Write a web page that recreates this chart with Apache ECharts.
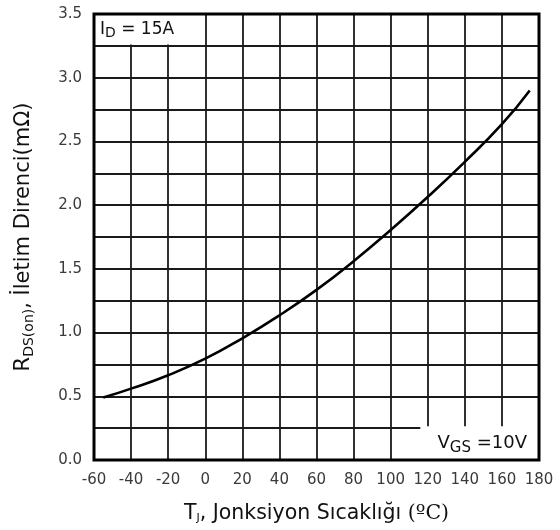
<!DOCTYPE html>
<html><head><meta charset="utf-8">
<script src="https://cdn.jsdelivr.net/npm/echarts@6/dist/echarts.min.js"></script>
<style>html,body{margin:0;padding:0;background:#fff}#c{width:560px;height:530px}</style>
</head><body><div id="c"></div>
<script>
// Data
const tempC = [-55, -40, -20, 0, 20, 40, 60, 80, 100, 120, 140, 160, 175];
const rdsOn = [0.49, 0.56, 0.665, 0.795, 0.955, 1.135, 1.335, 1.56, 1.805, 2.065, 2.34, 2.635, 2.90];
const xTicks = [-60, -40, -20, 0, 20, 40, 60, 80, 100, 120, 140, 160, 180];
const yTicks = ['0.0', '0.5', '1.0', '1.5', '2.0', '2.5', '3.0', '3.5'];
const idBox = [[-60, 3.26], [-18.5, 3.5]];
const vgsBox = [[116, 0], [180, 0.265]];

const sans = 'DejaVu Sans';
const chart = echarts.init(document.getElementById('c'), null, {renderer: 'canvas'});
chart.setOption({
  animation: false,
  backgroundColor: '#fff',
  grid: {left: 94, right: 21, top: 14, bottom: 70, show: true, z: 5,
         backgroundColor: 'transparent', borderColor: '#000', borderWidth: 3},
  xAxis: {
    type: 'value', min: xTicks[0], max: xTicks[xTicks.length - 1], interval: 20,
    axisLine: {show: false}, axisTick: {show: false},
    splitLine: {show: true, lineStyle: {color: '#1a1a1a', width: 1.8}},
    axisLabel: {color: '#3a3a3a', fontFamily: sans, fontSize: 15, margin: 13},
    name: '{a|T}{s|J}{a|, Jonksiyon Sıcaklığı }{c|(ºC)}',
    nameLocation: 'middle', nameGap: 43,
    nameTextStyle: {
      rich: {
        a: {fontFamily: sans, fontSize: 20.5, color: '#111'},
        s: {fontFamily: sans, fontSize: 11, color: '#111', padding: [10, 0, 0, 0]},
        c: {fontFamily: 'DejaVu Serif', fontSize: 20.5, color: '#111'}
      }
    }
  },
  yAxis: {
    type: 'value', min: 0, max: 3.5, interval: 0.25,
    axisLine: {show: false}, axisTick: {show: false},
    splitLine: {show: true, lineStyle: {color: '#1a1a1a', width: 1.8}},
    axisLabel: {color: '#3a3a3a', fontFamily: sans, fontSize: 15, margin: 12,
      formatter: v => {
        const i = yTicks.indexOf(v.toFixed(1));
        return (Math.abs(v * 2 - Math.round(v * 2)) < 1e-6 && i >= 0) ? yTicks[i] : '';
      }},
    name: '{a|R}{s|DS(on)}{a|, İletim Direnci(mΩ)}',
    nameLocation: 'middle', nameGap: 58, nameRotate: 90,
    nameTextStyle: {
      rich: {
        a: {fontFamily: sans, fontSize: 21, color: '#111'},
        s: {fontFamily: sans, fontSize: 14, color: '#111', padding: [10, 0, 0, 0]}
      }
    }
  },
  series: [
    {
      type: 'line', data: [], z: 1, silent: true,
      markArea: {
        silent: true,
        itemStyle: {color: '#fff', opacity: 1, borderWidth: 0},
        data: [
          [{coord: idBox[0], label: {show: true, position: 'insideLeft', distance: 6,
             formatter: '{a|I}{s|D}{a| = 15A}',
             rich: {a: {fontFamily: sans, fontSize: 17, color: '#111'},
                    s: {fontFamily: sans, fontSize: 14, color: '#111', padding: [8, 0, 0, 0]}}}},
           {coord: idBox[1]}],
          [{coord: vgsBox[0], label: {show: true, position: 'insideRight', distance: 12,
             formatter: '{a|V}{s|GS}{a| =10V}',
             rich: {a: {fontFamily: sans, fontSize: 18, color: '#111'},
                    s: {fontFamily: sans, fontSize: 15, color: '#111', padding: [9, 0, 0, 0]}}}},
           {coord: vgsBox[1]}]
        ]
      }
    },
    {
      type: 'line', z: 2, smooth: true, showSymbol: false, silent: true,
      data: tempC.map((t, i) => [t, rdsOn[i]]),
      lineStyle: {color: '#000', width: 2.6}
    }
  ]
});
</script></body></html>
